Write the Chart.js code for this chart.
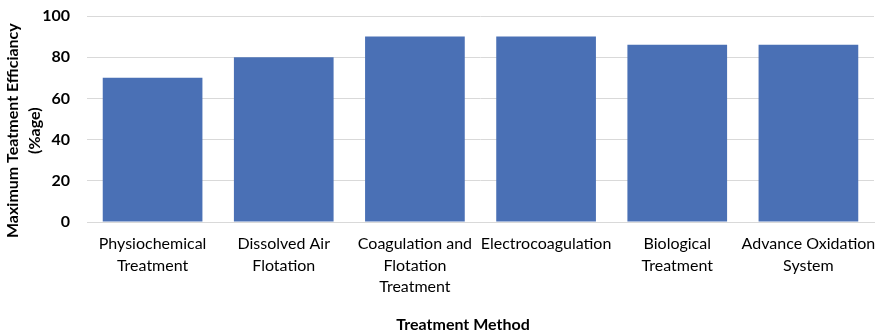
<!DOCTYPE html>
<html>
<head>
<meta charset="utf-8">
<script src="https://cdn.jsdelivr.net/npm/chart.js@4"></script>
<style>
  html, body { margin: 0; padding: 0; background: #fff; }
  #wrap { width: 877px; height: 333px; }
</style>
</head>
<body>
<div id="wrap"><canvas id="graph" width="877" height="333"></canvas></div>
<script>
// カテゴリ(横軸)
var methods = [
  ['Physiochemical', 'Treatment'],
  ['Dissolved Air', 'Flotation'],
  ['Coagulation and', 'Flotation', 'Treatment'],
  'Electrocoagulation',
  ['Biological', 'Treatment'],
  ['Advance Oxidation', 'System']
];
// 最大処理効率 (%)
var efficiency = [70, 80, 90, 90, 86, 86];
// 縦軸の目盛り
var yTicks = [0, 20, 40, 60, 80, 100];

var drawGraph = function(){
  var ctx = document.getElementById('graph').getContext('2d');
  var fontFam = "Lato, 'Open Sans', sans-serif";
  var config = {
    type: 'bar',
    data: {
      labels: methods,
      datasets: [{
        data: efficiency,
        backgroundColor: '#4a70b5',
        borderWidth: 0,
        barPercentage: 0.76,
        categoryPercentage: 1.0
      }]
    },
    options: {
      responsive: false,
      animation: false,
      layout: { padding: { top: 0, left: 0, bottom: 0, right: 3 } },
      plugins: { legend: { display: false }, tooltip: { enabled: false } },
      scales: {
        x: {
          grid: { display: false, drawTicks: false },
          border: { color: '#d9d9d9' },
          ticks: { color: '#000', font: { family: fontFam, size: 16, lineHeight: 1.35 }, padding: 11, maxRotation: 0, autoSkip: false },
          // 軸タイトルは少し左寄せ(末尾スペース)
          title: { display: true, text: 'Treatment Method         ', color: '#000', font: { family: fontFam, size: 16, weight: 'bold', lineHeight: 1 }, padding: 0 },
          afterFit: function(axis){ axis.height = 111; axis.paddingLeft = 0; axis.paddingRight = 0; }
        },
        y: {
          min: 0, max: 100,
          afterBuildTicks: function(axis){ axis.ticks = yTicks.map(function(v){ return { value: v }; }); },
          grid: { color: '#d9d9d9', drawTicks: false },
          border: { display: false },
          ticks: { color: '#000', font: { family: fontFam, size: 16, weight: 'bold' }, padding: 17 },
          title: { display: true, text: ['Maximum Teatment Efficiancy      ', '(%age)      '], color: '#000', font: { family: fontFam, size: 16, weight: 'bold', lineHeight: 1.35 }, padding: { top: 2, bottom: 0 } },
          afterFit: function(axis){ axis.width = 87; axis.paddingTop = 16; axis.paddingBottom = 0; }
        }
      }
    }
  };
  new Chart(ctx, config);
};

window.onload = function(){ drawGraph(); };
</script>
</body>
</html>
